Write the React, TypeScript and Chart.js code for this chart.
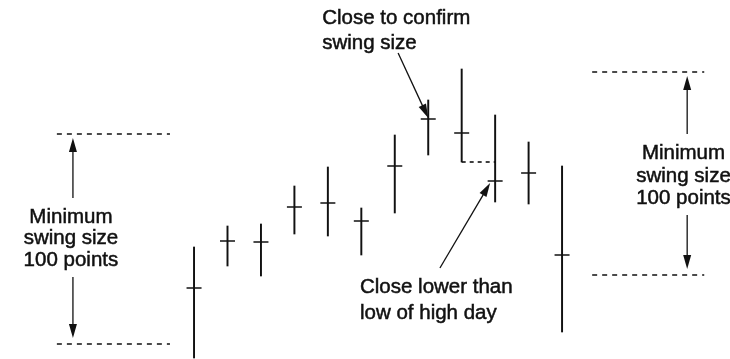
import React, { useEffect, useRef } from "react";
import { Chart, registerables } from "chart.js";

Chart.register(...registerables);

// Days (bar index) and price values (points)
const days = [1, 2, 3, 4, 5, 6, 7, 8, 9, 10, 11, 12];
const highs = [56, 66.5, 67.5, 86.5, 96, 75.5, 112, 129.5, 145, 122, 108.5, 96.5];
const lows = [0.5, 46.5, 41.5, 62.5, 61.5, 52, 73, 102, 98.5, 78.5, 77.5, 13.5];
const closes = [35.5, 59, 58.5, 76, 78, 69, 96.5, 120, 113, 89, 93, 52];

// Swing-size reference levels
const leftSwing = { low: 7.5, high: 112.5, from: -3.1, to: 0.28, arrowX: -2.62, labelX: -2.68 };
const rightSwing = { low: 42, high: 143.5, from: 12.9, to: 16.25, arrowX: 15.74, labelX: 15.63 };
const swingLabel = ["Minimum", "swing size", "100 points"];
const leftLabelY = [71, 60.5, 49.5];
const rightLabelY = [103, 91.5, 80.5];

const topNote = ["Close to confirm", "swing size"];
const topNotePos = { x: 4.83, y: [170.5, 158] };
const topArrow = { x1: 7.1, y1: 153, x2: 8.0, y2: 120.5 };

const bottomNote = ["Close lower than", "low of high day"];
const bottomNotePos = { x: 5.96, y: [36, 23] };
const bottomArrow = { x1: 8.35, y1: 45.5, x2: 9.85, y2: 88 };

// dashed connector: low of the high day (day 9) to day 10
const connector = { from: 9, to: 10, level: 98.5 };

const INK = "#111";
const FONT = '20.5px "Liberation Sans", Arial, sans-serif';

function arrow(ctx: CanvasRenderingContext2D, x1: number, y1: number, x2: number, y2: number) {
  const ang = Math.atan2(y2 - y1, x2 - x1);
  const len = 14;
  const hw = 4;
  ctx.beginPath();
  ctx.moveTo(x1, y1);
  ctx.lineTo(x2 - Math.cos(ang) * (len - 2), y2 - Math.sin(ang) * (len - 2));
  ctx.stroke();
  ctx.beginPath();
  ctx.moveTo(x2, y2);
  ctx.lineTo(x2 - Math.cos(ang) * len + Math.sin(ang) * hw, y2 - Math.sin(ang) * len - Math.cos(ang) * hw);
  ctx.lineTo(x2 - Math.cos(ang) * len - Math.sin(ang) * hw, y2 - Math.sin(ang) * len + Math.cos(ang) * hw);
  ctx.closePath();
  ctx.fill();
}

function text(ctx: CanvasRenderingContext2D, t: string, x: number, y: number) {
  ctx.fillText(t, x, y);
  ctx.strokeText(t, x, y);
}

const annotations = {
  id: "annotations",
  afterDatasetsDraw(chart: any) {
    const { ctx, scales } = chart;
    const X = (v: number) => scales.x.getPixelForValue(v);
    const Y = (v: number) => scales.y.getPixelForValue(v);
    ctx.save();
    ctx.strokeStyle = INK;
    ctx.fillStyle = INK;
    ctx.lineWidth = 1.3;

    // dashed swing lines
    ctx.setLineDash([5, 5]);
    for (const s of [leftSwing, rightSwing]) {
      for (const lv of [s.low, s.high]) {
        ctx.beginPath();
        ctx.moveTo(X(s.from), Y(lv));
        ctx.lineTo(X(s.to), Y(lv));
        ctx.stroke();
      }
    }
    ctx.lineWidth = 1.6;
    ctx.setLineDash([4, 4]);
    ctx.beginPath();
    ctx.moveTo(X(connector.from), Y(connector.level));
    ctx.lineTo(X(connector.to), Y(connector.level));
    ctx.stroke();
    ctx.setLineDash([]);
    ctx.lineWidth = 1.3;

    // swing labels and arrows
    ctx.font = FONT;
    ctx.textBaseline = "middle";
    ctx.textAlign = "center";
    const swings: [typeof leftSwing, number[]][] = [
      [leftSwing, leftLabelY],
      [rightSwing, rightLabelY],
    ];
    for (const [s, ly] of swings) {
      const ax = X(s.arrowX);
      const lx = X(s.labelX);
      ctx.lineWidth = 0.5;
      swingLabel.forEach((t, i) => text(ctx, t, lx, Y(ly[i])));
      ctx.lineWidth = 1.3;
      arrow(ctx, ax, Y(ly[0]) - 19, ax, Y(s.high) + 4);
      arrow(ctx, ax, Y(ly[2]) + 17, ax, Y(s.low) - 6);
    }

    // notes
    ctx.textAlign = "left";
    ctx.lineWidth = 0.5;
    topNote.forEach((t, i) => text(ctx, t, X(topNotePos.x), Y(topNotePos.y[i])));
    bottomNote.forEach((t, i) => text(ctx, t, X(bottomNotePos.x), Y(bottomNotePos.y[i])));
    ctx.lineWidth = 1.3;
    arrow(ctx, X(topArrow.x1), Y(topArrow.y1), X(topArrow.x2), Y(topArrow.y2));
    arrow(ctx, X(bottomArrow.x1), Y(bottomArrow.y1), X(bottomArrow.x2), Y(bottomArrow.y2));
    ctx.restore();
  },
};

export default function App() {
  const ref = useRef<HTMLCanvasElement>(null);
  useEffect(() => {
    document.body.style.margin = "0";
    const chart = new Chart(ref.current as HTMLCanvasElement, {
      type: "bar",
      data: {
        datasets: [
          {
            type: "bar",
            data: days.map((d, i) => ({ x: d, y: [lows[i], highs[i]] })) as any,
            backgroundColor: INK,
            borderWidth: 0,
            barThickness: 1.3,
          } as any,
          {
            type: "scatter",
            data: days.map((d, i) => ({ x: d, y: closes[i] })),
            pointStyle: "line",
            radius: 7.5,
            borderWidth: 1.5,
            borderColor: INK,
            backgroundColor: INK,
          } as any,
        ],
      },
      options: {
        responsive: false,
        animation: false,
        layout: { padding: 0, autoPadding: false },
        plugins: { legend: { display: false }, tooltip: { enabled: false } },
        scales: {
          x: { type: "linear", min: -4.8, max: 17.02, offset: false, display: false },
          y: { type: "linear", min: 0, max: 179.5, display: false },
        },
      },
      plugins: [annotations],
    });
    return () => chart.destroy();
  }, []);
  return (
    <div style={{ width: 730, height: 359, background: "#fff" }}>
      <canvas ref={ref} width={730} height={359} />
    </div>
  );
}
